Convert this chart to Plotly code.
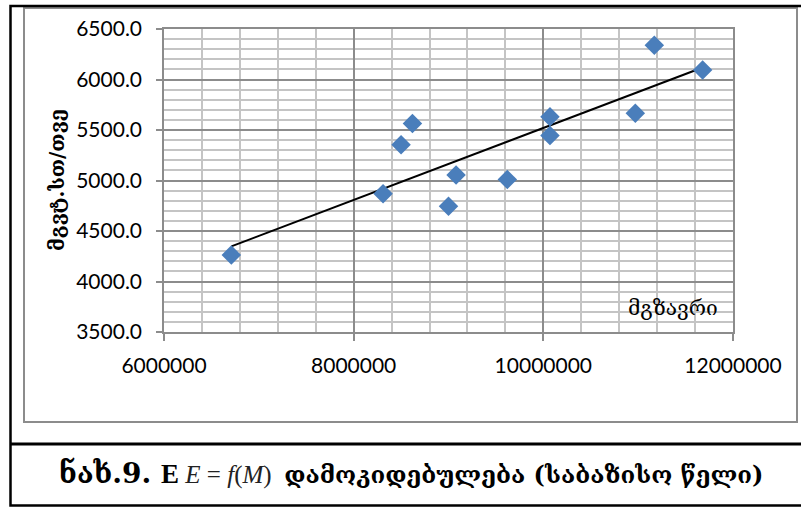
import numpy as np
import plotly.graph_objects as go

# ---- data ----
passengers = [6710000, 8310000, 8500000, 8620000, 9000000, 9080000,
              9620000, 10070000, 10070000, 10970000, 11170000, 11680000]
energy = [4262, 4868, 5355, 5565, 4745, 5055,
          5010, 5630, 5445, 5665, 6340, 6095]

x_range = [6000000, 12000000]
y_range = [3500, 6500]
x_ticks = [6000000, 8000000, 10000000, 12000000]
y_ticks = [3500, 4000, 4500, 5000, 5500, 6000, 6500]

y_title = "მგვტ.სთ/თვე"
x_title = "მგზავრი"

# ---- layout geometry (pixels) ----
W, H = 801, 507
PL, PR, PT, PB = 164, 733, 29, 332   # plot area box


def px(x):
    return (x - PL) / (PR - PL)


def py(y):
    return (PB - y) / (PB - PT)


# linear trend line computed from the data
coef = np.polyfit(passengers, energy, 1)
tx = [min(passengers), max(passengers)]
ty = [coef[0] * v + coef[1] for v in tx]

fig = go.Figure()
fig.add_trace(go.Scatter(
    x=tx, y=ty, mode="lines",
    line=dict(color="black", width=2), hoverinfo="skip", showlegend=False))
fig.add_trace(go.Scatter(
    x=passengers, y=energy, mode="markers",
    marker=dict(symbol="diamond", size=15, color="#4A7EBB",
                line=dict(width=0)),
    showlegend=False))

tick_font = dict(family="Lato", size=21, color="black")
minor_grid = "#C4C4C4"
major_grid = "#8C8C8C"

fig.update_xaxes(
    range=x_range, tickvals=x_ticks, tickformat="d",
    showgrid=True, gridcolor=major_grid, gridwidth=1.5,
    minor=dict(dtick=400000, tick0=6000000, showgrid=True,
               gridcolor=minor_grid, gridwidth=1.5),
    showline=True, linecolor=major_grid, linewidth=1.5, mirror=True,
    ticks="outside", ticklen=7, tickcolor=major_grid, tickwidth=1.5,
    tickfont=tick_font, zeroline=False, ticklabelstandoff=7)
fig.update_yaxes(
    range=y_range, tickvals=y_ticks, tickformat=".1f",
    showgrid=True, gridcolor=major_grid, gridwidth=1.5,
    minor=dict(dtick=100, tick0=3500, showgrid=True,
               gridcolor=minor_grid, gridwidth=1.5),
    showline=True, linecolor=major_grid, linewidth=1.5, mirror=True,
    ticks="outside", ticklen=6, tickcolor=major_grid, tickwidth=1.5,
    tickfont=tick_font, zeroline=False, ticklabelstandoff=10)

shapes = [
    # gray chart-area border
    dict(type="rect", xref="paper", yref="paper",
         x0=px(24), x1=px(797), y0=py(422), y1=py(8),
         line=dict(color="#8C8C8C", width=2), layer="below"),
    # outer black frame
    dict(type="rect", xref="paper", yref="paper",
         x0=px(10.5), x1=px(803), y0=py(505.5), y1=py(6),
         line=dict(color="black", width=2.5), layer="below"),
    # separator above caption
    dict(type="line", xref="paper", yref="paper",
         x0=px(10.5), x1=px(803), y0=py(444), y1=py(444),
         line=dict(color="black", width=3), layer="below"),
]

SERIF = "font-family:'Liberation Serif';"
caption = ("<span style=\"font-size:28px\"><b>ნახ.9. </b></span>"
           "<span style=\"" + SERIF + "font-size:27px\"><b>E</b></span>"
           "<span style=\"" + SERIF + "font-style:italic;font-size:25px;fill:#222\"> E</span>"
           "<span style=\"" + SERIF + "font-size:25px;fill:#222\"> = </span>"
           "<span style=\"" + SERIF + "font-style:italic;font-size:25px;fill:#222\">f</span>"
           "<span style=\"" + SERIF + "font-size:25px;fill:#222\">(</span>"
           "<span style=\"" + SERIF + "font-style:italic;font-size:25px;fill:#222\">M</span>"
           "<span style=\"" + SERIF + "font-size:25px;fill:#222\">)  </span>"
           "<b>დამოკიდებულება (საბაზისო წელი)</b>")

annotations = [
    dict(text="<b>" + y_title + "</b>", x=px(57), y=py(180),
         xref="paper", yref="paper", showarrow=False, textangle=-90,
         font=dict(family="DejaVu Serif", size=20, color="black"),
         xanchor="center", yanchor="middle"),
    dict(text=x_title, x=px(673), y=py(308),
         xref="paper", yref="paper", showarrow=False,
         font=dict(family="DejaVu Serif", size=21, color="black"),
         xanchor="center", yanchor="middle"),
    dict(text=caption, x=px(411), y=py(473),
         xref="paper", yref="paper", showarrow=False,
         font=dict(family="DejaVu Serif", size=24, color="black"),
         xanchor="center", yanchor="middle"),
]

fig.update_layout(
    width=W, height=H,
    margin=dict(l=PL, r=W - PR, t=PT, b=H - PB, pad=0),
    paper_bgcolor="white", plot_bgcolor="white",
    shapes=shapes, annotations=annotations, showlegend=False)

fig.write_html("out.html")
